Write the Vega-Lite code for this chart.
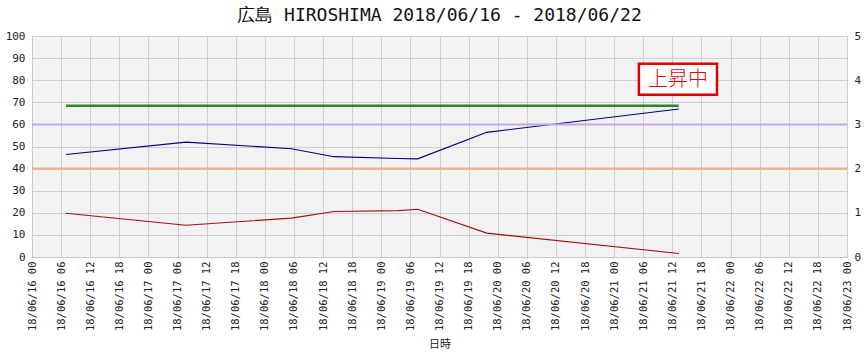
{
  "$schema": "https://vega.github.io/schema/vega-lite/v6.json",
  "autosize": {"type": "none"},
  "width": 815,
  "height": 221,
  "padding": {"left": 32, "top": 36, "right": 20, "bottom": 97},
  "background": "white",
  "config": {
    "view": {"fill": "#f2f2f2", "stroke": "#c8c8c8"},
    "axis": {"labelFont": "DejaVu Sans Mono", "labelColor": "#222", "titleFont": "Noto Sans CJK JP", "titleFontWeight": "normal", "gridColor": "#cfcfcf", "gridOpacity": 1, "domainColor": "#c8c8c8", "ticks": false}
  },
  "title": {"text": "広島 HIROSHIMA 2018/06/16 - 2018/06/22", "font": "DejaVu Sans Mono", "fontSize": 18, "fontWeight": "normal", "color": "#111", "offset": 5, "anchor": "middle"},
  "datasets": {
    "obs": [
      {"t": "2018-06-16T07:00:00", "series": "blue", "v": 46.4},
      {"t": "2018-06-17T07:45:00", "series": "blue", "v": 52.0},
      {"t": "2018-06-18T05:30:00", "series": "blue", "v": 49.0},
      {"t": "2018-06-18T14:15:00", "series": "blue", "v": 45.4},
      {"t": "2018-06-19T03:30:00", "series": "blue", "v": 44.6},
      {"t": "2018-06-19T07:30:00", "series": "blue", "v": 44.4},
      {"t": "2018-06-19T21:45:00", "series": "blue", "v": 56.4},
      {"t": "2018-06-21T13:20:00", "series": "blue", "v": 67.0},
      {"t": "2018-06-16T07:00:00", "series": "red", "v": 19.8},
      {"t": "2018-06-17T07:45:00", "series": "red", "v": 14.4},
      {"t": "2018-06-18T05:30:00", "series": "red", "v": 17.6},
      {"t": "2018-06-18T14:15:00", "series": "red", "v": 20.6},
      {"t": "2018-06-19T03:30:00", "series": "red", "v": 21.0},
      {"t": "2018-06-19T07:30:00", "series": "red", "v": 21.6},
      {"t": "2018-06-19T21:45:00", "series": "red", "v": 10.8},
      {"t": "2018-06-21T13:20:00", "series": "red", "v": 1.6}
    ],
    "green": [
      {"t": "2018-06-16T07:00:00", "v": 68.4},
      {"t": "2018-06-21T13:20:00", "v": 68.4}
    ],
    "levels": [
      {"level": "purple", "v": 3},
      {"level": "orange", "v": 2}
    ],
    "badge": [
      {"t1": "2018-06-21T05:06:00", "t2": "2018-06-21T21:12:00", "tm": "2018-06-21T13:10:00", "v1": 73.4, "v2": 87.5, "vm": 80.2, "label": "上昇中"}
    ]
  },
  "layer": [
    {
      "data": {"name": "obs"},
      "mark": {"type": "line", "strokeWidth": 1.1},
      "encoding": {
        "x": {"field": "t", "type": "temporal",
              "scale": {"domain": [{"year": 2018, "month": 6, "date": 16, "hours": 0}, {"year": 2018, "month": 6, "date": 23, "hours": 0}], "nice": false},
              "axis": {"title": "日時", "titleFontSize": 11, "titleColor": "#222", "titlePadding": 8, "format": "%y/%m/%d %H", "labelAngle": 270, "labelFontSize": 10.5, "labelPadding": 4, "tickCount": 28, "labelOverlap": false, "labelFlush": false, "grid": true}},
        "y": {"field": "v", "type": "quantitative", "scale": {"domain": [0, 100], "nice": false},
              "axis": {"orient": "left", "title": null, "values": [0, 10, 20, 30, 40, 50, 60, 70, 80, 90, 100], "labelFontSize": 11, "labelPadding": 7, "grid": true}},
        "color": {"field": "series", "type": "nominal", "scale": {"domain": ["blue", "red"], "range": ["#000080", "#a01010"]}, "legend": null}
      }
    },
    {
      "data": {"name": "levels"},
      "mark": {"type": "rule", "strokeWidth": 2},
      "encoding": {
        "y": {"field": "v", "type": "quantitative", "scale": {"domain": [0, 5], "nice": false},
              "axis": {"orient": "right", "title": null, "grid": false, "tickCount": 5, "labelFontSize": 11, "labelPadding": 7, "domain": false}},
        "color": {"field": "level", "type": "nominal", "scale": {"domain": ["purple", "orange"], "range": ["#c9a3e3", "#f3ab7f"]}, "legend": null}
      }
    },
    {
      "data": {"name": "green"},
      "mark": {"type": "line", "strokeWidth": 2.5, "color": "#2a8a2a"},
      "encoding": {
        "x": {"field": "t", "type": "temporal"},
        "y": {"field": "v", "type": "quantitative", "scale": {"domain": [0, 100], "nice": false}, "axis": null}
      }
    },
    {
      "data": {"name": "badge"},
      "mark": {"type": "rect", "fill": "white", "stroke": "#e00000", "strokeWidth": 2.5},
      "encoding": {
        "x": {"field": "t1", "type": "temporal"},
        "x2": {"field": "t2"},
        "y": {"field": "v1", "type": "quantitative", "scale": {"domain": [0, 100], "nice": false}, "axis": null},
        "y2": {"field": "v2"}
      }
    },
    {
      "data": {"name": "badge"},
      "mark": {"type": "text", "color": "#e00000", "fontSize": 20, "font": "Noto Sans CJK JP", "fontWeight": 300, "align": "center", "baseline": "middle"},
      "encoding": {
        "x": {"field": "tm", "type": "temporal"},
        "y": {"field": "vm", "type": "quantitative", "scale": {"domain": [0, 100], "nice": false}, "axis": null},
        "text": {"field": "label", "type": "nominal"}
      }
    }
  ],
  "resolve": {"scale": {"y": "independent", "color": "independent"}}
}
